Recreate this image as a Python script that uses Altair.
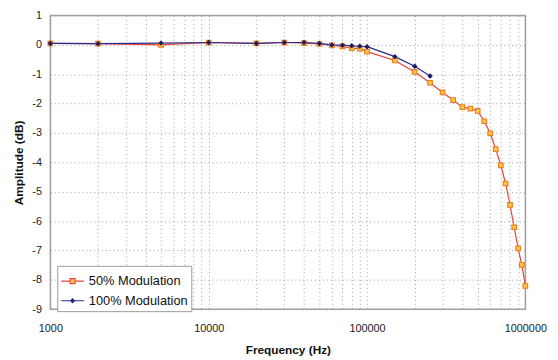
import altair as alt
import pandas as pd

# ---- data ----
series_names = ["50% Modulation", "100% Modulation"]

freq_50 = [1000, 2000, 5000, 10000, 20000, 30000, 40000, 50000, 60000, 70000,
           80000, 90000, 100000, 150000, 200000, 250000, 300000, 350000, 400000,
           450000, 500000, 550000, 600000, 650000, 700000, 750000, 800000,
           850000, 900000, 950000, 1000000]
db_50 = [0.05, 0.04, 0.0, 0.08, 0.05, 0.08, 0.06, 0.03, -0.02, -0.05,
         -0.11, -0.13, -0.23, -0.53, -0.92, -1.29, -1.62, -1.88, -2.12,
         -2.17, -2.25, -2.60, -3.01, -3.55, -4.10, -4.72, -5.45,
         -6.21, -6.93, -7.49, -8.21]

freq_100 = [1000, 2000, 5000, 10000, 20000, 30000, 40000, 50000, 60000, 70000,
            80000, 90000, 100000, 150000, 200000, 250000]
db_100 = [0.05, 0.04, 0.06, 0.08, 0.05, 0.08, 0.08, 0.05, 0.0, -0.01,
          -0.03, -0.05, -0.06, -0.40, -0.73, -1.06]

x_grid_values = [m * 10 ** e for e in (3, 4, 5) for m in range(1, 10)] + [1000000]
y_values = list(range(-9, 2))

df = pd.concat([
    pd.DataFrame({"freq": freq_50, "db": db_50, "series": series_names[0]}),
    pd.DataFrame({"freq": freq_100, "db": db_100, "series": series_names[1]}),
], ignore_index=True)

FONT = "Liberation Sans"
line_colors = ["#e8443a", "#2a2a8a"]
marker_fill = ["#f9c64a", "#1c1c66"]
marker_stroke = ["#f07a1e", "#1c1c66"]

path_sq = "M-1,0L-0.22,0M0.22,0L1,0M-0.22,-0.22L0.22,-0.22L0.22,0.22L-0.22,0.22Z"
path_di = "M-1,0L1,0M0,-0.18L0.18,0L0,0.18L-0.18,0Z"

x_enc = alt.X(
    "freq:Q",
    scale=alt.Scale(type="log", domain=[1000, 1000000], nice=False),
    axis=alt.Axis(
        values=x_grid_values,
        format="d",
        labelExpr="indexof([1000,10000,100000,1000000], datum.value) >= 0 ? datum.label : ''",
        title="Frequency (Hz)",
        grid=True, gridDash=[1, 3], gridColor="#a0a0a0", gridWidth=1,
        ticks=False, domain=False,
        labelPadding=14, labelFontSize=11, labelFont=FONT, labelColor="#222",
        labelOverlap=False, labelFlush=False,
        titleFont=FONT, titleFontSize=12, titleFontWeight="bold",
        titlePadding=11, titleColor="#111",
    ),
)
y_enc = alt.Y(
    "db:Q",
    scale=alt.Scale(domain=[-9, 1], nice=False),
    axis=alt.Axis(
        values=y_values,
        labelExpr="datum.value < 0 ? '-' + abs(datum.value) : '' + datum.value",
        title="Amplitude (dB)",
        grid=True, gridDash=[1, 3], gridColor="#a0a0a0", gridWidth=1,
        ticks=False, domain=False,
        labelPadding=9, labelFontSize=11, labelFont=FONT, labelColor="#222",
        labelOverlap=False, labelFlush=False, labelSeparation=0,
        titleFont=FONT, titleFontSize=12, titleFontWeight="bold",
        titlePadding=7, titleColor="#111",
    ),
)


def make_legend():
    return alt.Legend(
        title=None,
        orient="none", legendX=7, legendY=254,
        strokeColor="#9a9a9a", fillColor="white", padding=3,
        labelFont=FONT, labelFontSize=13, labelColor="#111",
        symbolSize=529, symbolStrokeWidth=1.1, symbolOpacity=1, rowPadding=-4,
    )


lines = alt.Chart(df).mark_line(strokeWidth=1.2).encode(
    x=x_enc,
    y=y_enc,
    color=alt.Color("series:N", sort=series_names,
                    scale=alt.Scale(domain=series_names, range=line_colors),
                    legend=None),
    order=alt.Order("freq:Q"),
)

points = alt.Chart(df).mark_point(filled=False, strokeWidth=1.1, opacity=1).encode(
    x=x_enc,
    y=y_enc,
    shape=alt.Shape("series:N", scale=alt.Scale(domain=series_names, range=["square", "diamond"]), legend=None),
    fill=alt.Fill("series:N", scale=alt.Scale(domain=series_names, range=marker_fill), legend=None),
    stroke=alt.Stroke("series:N", scale=alt.Scale(domain=series_names, range=marker_stroke), legend=None),
    size=alt.Size("series:N", scale=alt.Scale(domain=series_names, range=[22, 16]), legend=None),
)

legend_layer = alt.Chart(df).mark_point(opacity=0, strokeWidth=1.1).encode(
    x=x_enc,
    y=y_enc,
    shape=alt.Shape("series:N", sort=series_names,
                    scale=alt.Scale(domain=series_names, range=[path_sq, path_di]), legend=make_legend()),
    fill=alt.Fill("series:N", sort=series_names,
                  scale=alt.Scale(domain=series_names, range=marker_fill), legend=make_legend()),
    stroke=alt.Stroke("series:N", sort=series_names,
                      scale=alt.Scale(domain=series_names, range=line_colors), legend=make_legend()),
)

chart = alt.layer(lines, points, legend_layer).resolve_scale(
    shape="independent", fill="independent", stroke="independent", size="independent"
).properties(
    width=482, height=298,
    autosize=alt.AutoSizeParams(type="none"),
    padding={"left": 43, "top": 5, "right": 25, "bottom": 53},
    background="white",
).configure_view(stroke="#a0a0a0", strokeWidth=1.5).configure_axis(labelOverlap=False)

chart.save("out.html", embed_options={"renderer": "svg", "actions": False})
